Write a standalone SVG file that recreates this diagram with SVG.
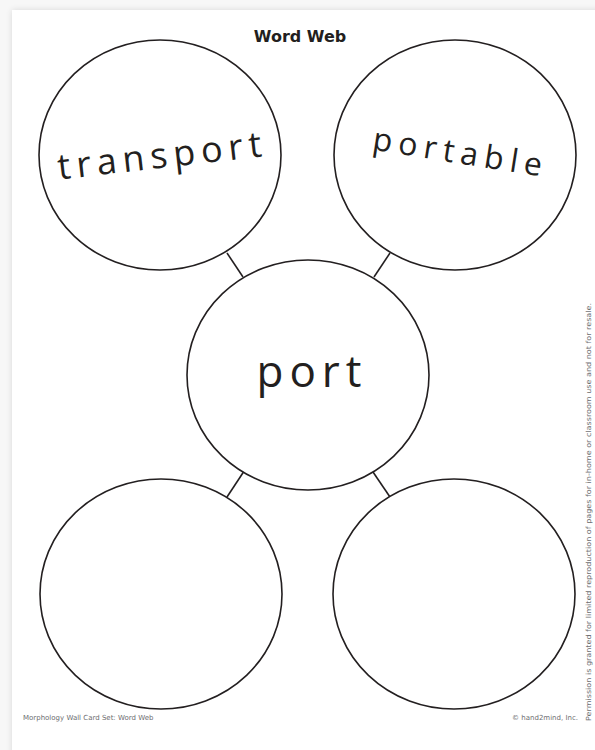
<svg xmlns="http://www.w3.org/2000/svg" width="595" height="750" viewBox="0 0 595 750">
<defs>
<filter id="sh" x="-5%" y="-5%" width="110%" height="110%">
<feGaussianBlur stdDeviation="3"/>
</filter>
<style>
.bub{fill:#fff;stroke:#231f20;stroke-width:1.6}
.con{stroke:#231f20;stroke-width:1.6;fill:none}
.hw{font-family:"Open Sans","DejaVu Sans",sans-serif;font-weight:400;fill:#231f20;text-anchor:middle}
.ft{font-family:"DejaVu Sans","Liberation Sans",sans-serif;font-size:7px;fill:#6d6e71}
</style>
</defs>
<rect x="0" y="0" width="595" height="750" fill="#f7f7f7"/>
<rect x="12" y="10" width="600" height="760" fill="#000" opacity="0.12" filter="url(#sh)"/>
<rect x="12" y="10" width="600" height="760" fill="#fff"/>
<text x="300" y="42" font-family="'DejaVu Sans','Liberation Sans',sans-serif" font-weight="bold" font-size="16" fill="#231f20" text-anchor="middle">Word Web</text>
<g id="connectors">
<line class="con" x1="227" y1="253" x2="243" y2="277"/>
<line class="con" x1="390" y1="253" x2="374" y2="277"/>
<line class="con" x1="243.5" y1="472" x2="227" y2="497"/>
<line class="con" x1="373" y1="472" x2="390" y2="497"/>
</g>
<g id="node-transport">
<ellipse class="bub" cx="160" cy="155" rx="121" ry="115"/>
<text class="hw" font-size="36" x="160" y="168" textLength="205" lengthAdjust="spacing" transform="rotate(-6.5 160 160)">transport</text>
</g>
<g id="node-portable">
<ellipse class="bub" cx="455" cy="155" rx="121" ry="115"/>
<text class="hw" font-size="32" x="457" y="163" textLength="171" lengthAdjust="spacing" transform="rotate(9 457 156)">portable</text>
</g>
<g id="node-port">
<ellipse class="bub" cx="308" cy="375" rx="121" ry="115"/>
<text class="hw" font-size="44" x="309" y="387" textLength="105" lengthAdjust="spacing">port</text>
</g>
<g id="node-bottom-left">
<ellipse class="bub" cx="161" cy="594" rx="121" ry="115"/>
</g>
<g id="node-bottom-right">
<ellipse class="bub" cx="454" cy="594" rx="121" ry="115"/>
</g>
<text class="ft" x="23" y="720">Morphology Wall Card Set: Word Web</text>
<text class="ft" x="578" y="720" text-anchor="end">© hand2mind, Inc.</text>
<text class="ft" transform="translate(591 721) rotate(-90)" font-size="7.2" textLength="418" lengthAdjust="spacingAndGlyphs" fill="#8a8b8d">Permission is granted for limited reproduction of pages for in-home or classroom use and not for resale.</text>
</svg>
